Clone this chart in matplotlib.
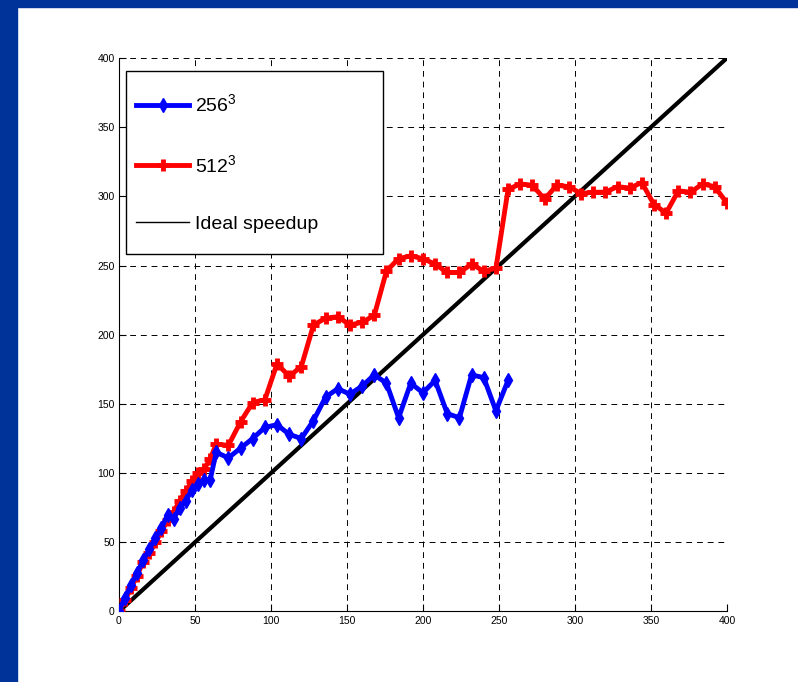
import numpy as np
from matplotlib import pyplot as plt
from matplotlib.lines import Line2D
from matplotlib.patches import Rectangle

plt.rcParams['font.family'] = ['Liberation Sans', 'DejaVu Sans']
plt.rcParams['mathtext.fontset'] = 'custom'
plt.rcParams['mathtext.rm'] = 'Liberation Sans'
plt.rcParams['mathtext.default'] = 'rm'

# processors vs speedup
x_256 = [0, 4, 8, 12, 16, 20, 24, 28, 32, 36, 40, 44, 48, 52, 56, 60,
         64, 72, 80, 88, 96, 104, 112, 120, 128, 136, 144, 152, 160, 168,
         176, 184, 192, 200, 208, 216, 224, 232, 240, 248, 256]
y_256 = [0, 10, 19, 28, 37, 45, 53, 60, 70, 67, 75, 80, 88, 92, 95, 95,
         115, 111, 118, 125, 133, 135, 128, 125, 138, 155, 161, 157, 163, 171,
         165, 140, 165, 158, 167, 143, 140, 171, 169, 145, 167]

x_512 = [0, 4, 8, 12, 16, 20, 24, 28, 32, 36, 40, 44, 48, 52, 56, 60,
         64, 72, 80, 88, 96, 104, 112, 120, 128, 136, 144, 152, 160, 168,
         176, 184, 192, 200, 208, 216, 224, 232, 240, 248, 256, 264, 272,
         280, 288, 296, 304, 312, 320, 328, 336, 344, 352, 360, 368, 376,
         384, 392, 400]
y_512 = [0, 8, 17, 26, 36, 42, 50, 58, 66, 72, 80, 87, 94, 100, 103, 110,
         121, 120, 137, 151, 153, 179, 170, 177, 207, 212, 213, 207, 209, 214,
         246, 255, 257, 255, 251, 245, 245, 251, 246, 248, 305, 309, 308,
         298, 308, 307, 302, 303, 303, 307, 306, 310, 294, 288, 304, 303,
         309, 307, 295]

x_ideal = [0, 400]
y_ideal = [0, 400]

labels = ['256$^3$', '512$^3$', 'Ideal speedup']
ticks = np.arange(0, 401, 50)

fig = plt.figure(figsize=(7.98, 6.82), dpi=100)
fig.patches.append(Rectangle((0, 0), 17 / 798, 1, transform=fig.transFigure,
                             color='#003399', zorder=0))
fig.patches.append(Rectangle((0, 1 - 7 / 682), 1, 7 / 682, transform=fig.transFigure,
                             color='#003399', zorder=0))

ax = fig.add_axes([0.149, 0.1034, 0.762, 0.8116])
ax.plot(x_ideal, y_ideal, color='black', lw=3, zorder=2)
ax.plot(x_512, y_512, color='red', lw=3.5, marker='+', ms=8, mew=3.5, zorder=3)
ax.plot(x_256, y_256, color='blue', lw=3.5, marker='d', ms=7, zorder=4)

ax.set_xlim(0, 400)
ax.set_ylim(0, 400)
ax.set_xticks(ticks)
ax.set_yticks(ticks)
ax.tick_params(direction='in', length=5, width=0.8, labelsize=7.5, pad=3)
ax.spines['top'].set_visible(False)
ax.spines['right'].set_visible(False)
ax.grid(True, color='black', lw=0.7, linestyle=(0, (6, 5)))
ax.set_axisbelow(True)

# legend box
ax.add_patch(Rectangle((0.0115, 0.646), 0.4225, 0.331, transform=ax.transAxes,
                       facecolor='white', edgecolor='black', lw=1, zorder=5))
handles = [Line2D([], [], color='blue', lw=3.5, marker='d', ms=7),
           Line2D([], [], color='red', lw=3.5, marker='+', ms=8, mew=3.5),
           Line2D([], [], color='black', lw=1)]
ax.legend(handles, labels, loc='upper left', bbox_to_anchor=(0.015, 0.95),
          frameon=False, fontsize=14, handlelength=2.75, handletextpad=0.3,
          labelspacing=2.0, borderaxespad=0)

fig.savefig('out.png', dpi=100)
